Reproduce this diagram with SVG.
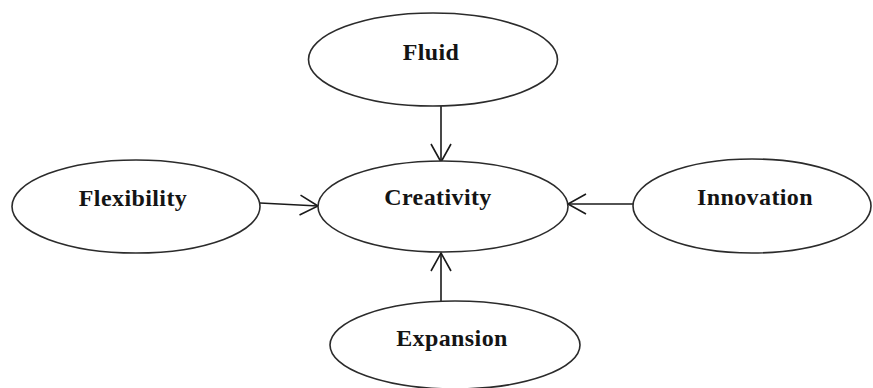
<svg xmlns="http://www.w3.org/2000/svg" width="873" height="388" viewBox="0 0 873 388">
<style>
.node ellipse{fill:#fff;stroke:#2b2b2b;stroke-width:1.6}
.node text{font-family:"Liberation Serif","Times New Roman",serif;font-weight:bold;font-size:24px;fill:#141414;text-anchor:middle;letter-spacing:0.4px}
.edges line{stroke:#1a1a1a;stroke-width:1.6;marker-end:url(#arr)}
</style>
<defs>
<marker id="arr" markerUnits="userSpaceOnUse" viewBox="-20 -12 22 24" refX="0" refY="0" markerWidth="22" markerHeight="24" orient="auto">
<path d="M-18,-10 L0,0 L-18,10" fill="none" stroke="#1a1a1a" stroke-width="1.6"/>
</marker>
</defs>
<rect width="873" height="388" fill="#fff"/>
<g class="edges">
<line x1="441" y1="106" x2="441" y2="162"/>
<line x1="260" y1="203" x2="318" y2="206"/>
<line x1="633" y1="204" x2="568" y2="204"/>
<line x1="441" y1="301" x2="441" y2="253"/>
</g>
<g id="fluid" class="node"><ellipse cx="433" cy="59.5" rx="124.5" ry="46.5"/><text x="431" y="60">Fluid</text></g>
<g id="creativity" class="node"><ellipse cx="443" cy="206.5" rx="125" ry="45.5"/><text x="438" y="205">Creativity</text></g>
<g id="flexibility" class="node"><ellipse cx="136" cy="206.5" rx="124" ry="46.5"/><text x="133" y="206">Flexibility</text></g>
<g id="innovation" class="node"><ellipse cx="752" cy="206" rx="119" ry="47"/><text x="755" y="205">Innovation</text></g>
<g id="expansion" class="node"><ellipse cx="455" cy="345" rx="125" ry="44"/><text x="452" y="346">Expansion</text></g>
</svg>
